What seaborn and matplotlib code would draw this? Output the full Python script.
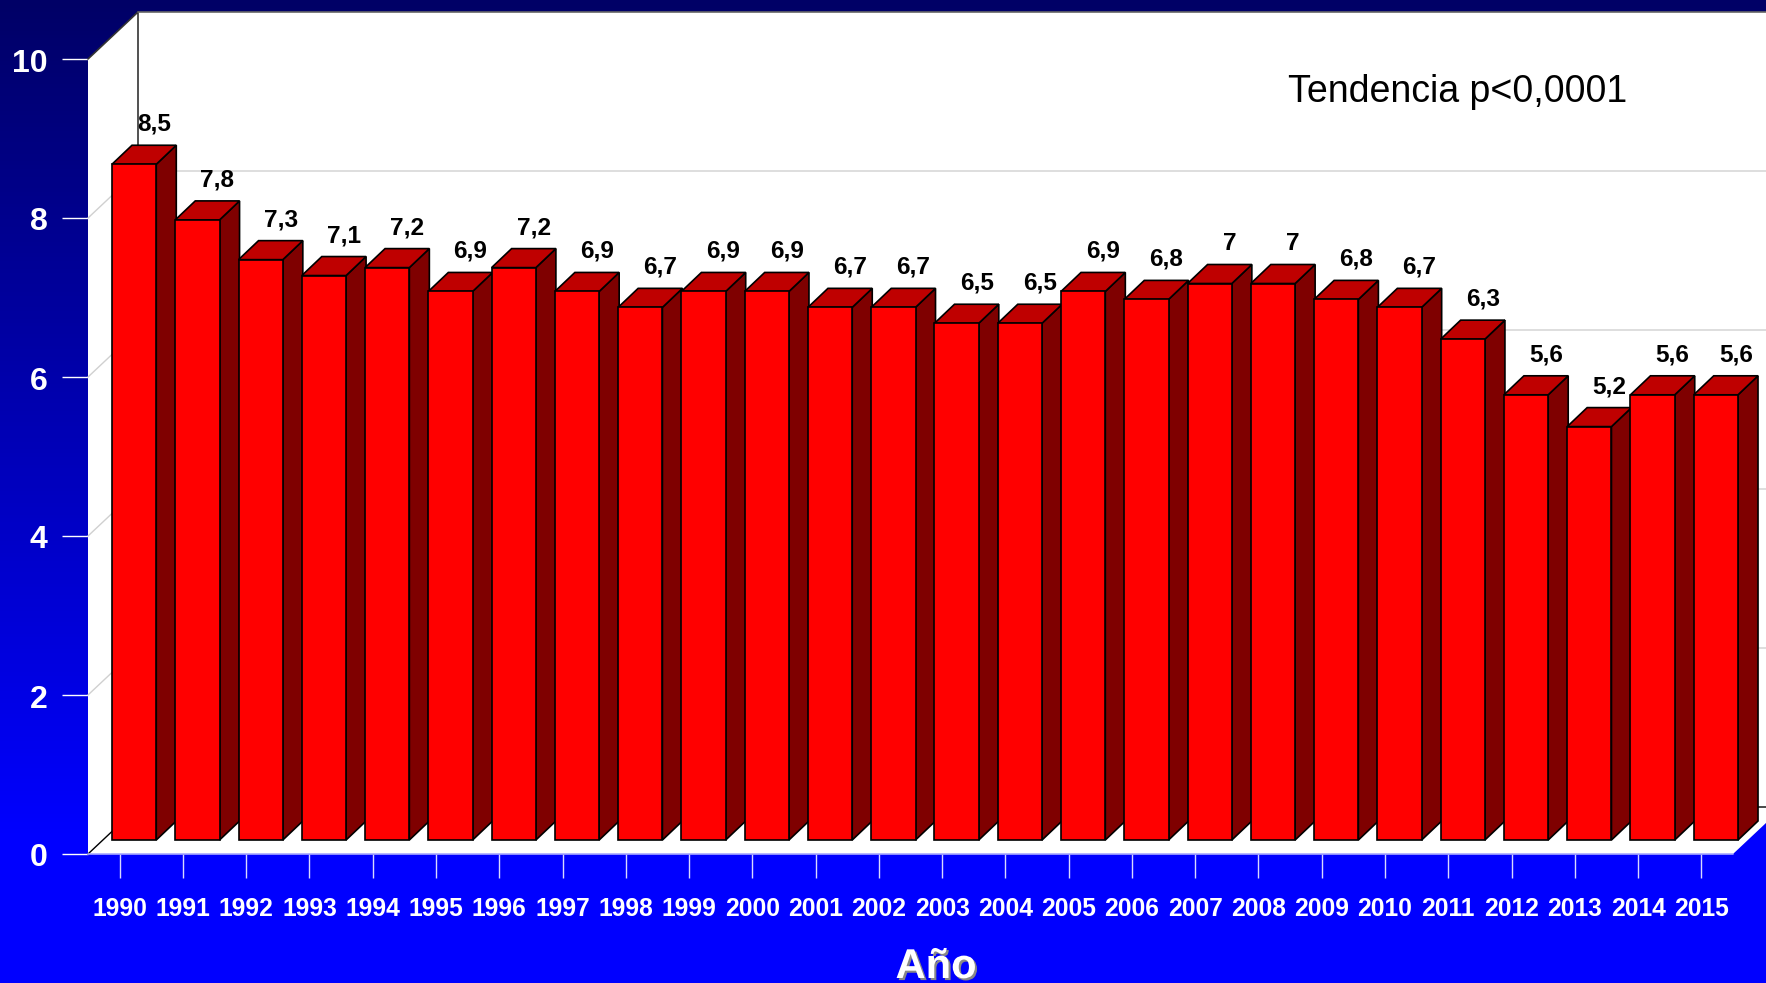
import matplotlib
matplotlib.use("Agg")
import matplotlib.pyplot as plt
import matplotlib.patheffects as pe
from matplotlib.colors import LinearSegmentedColormap
from matplotlib.patches import Polygon
from matplotlib.transforms import ScaledTranslation
import numpy as np
import seaborn as sns

years = [str(y) for y in range(1990, 2016)]
rates = [8.5, 7.8, 7.3, 7.1, 7.2, 6.9, 7.2, 6.9, 6.7, 6.9, 6.9, 6.7, 6.7,
         6.5, 6.5, 6.9, 6.8, 7, 7, 6.8, 6.7, 6.3, 5.6, 5.2, 5.6, 5.6]
y_ticks = [0, 2, 4, 6, 8, 10]
note = "Tendencia p<0,0001"
x_title = "Año"

W, H = 1766, 983
sns.set_theme(style="white")
plt.rcParams['font.family'] = ['Liberation Sans', 'DejaVu Sans']

# front plane of the fake 3d box, in pixels
left, right, top, bottom = 88, 1733, 59, 854
step_x = (right - left) / 26
step_y = (bottom - top) / 10


def px_axes(fig, l, r, t, b):
    return fig.add_axes([l / W, 1 - b / H, (r - l) / W, (b - t) / H])


fig = plt.figure(figsize=(W / 100, H / 100), dpi=100)

# background gradient
bg = fig.add_axes([0, 0, 1, 1], zorder=0)
cmap = LinearSegmentedColormap.from_list("bg", [(0, "#000066"), (0.85, "#0000FF"), (1, "#0000FF")])
bg.imshow(np.linspace(0, 1, 256)[:, None], aspect="auto", cmap=cmap)
bg.axis("off")

# box walls, axis ticks
ax = px_axes(fig, left, right, top, bottom)
ax.set_zorder(1)
ax.patch.set_alpha(0)
ax.set_xlim(-0.5, 25.5)
ax.set_ylim(0, 10)
dx = 50 / step_x
dy = 47 / step_y
xl, xr = -0.5, 25.5
for pts in [[(xl, 0), (xl, 10), (xl + dx, 10 + dy), (xl + dx, dy)],
            [(xl + dx, dy), (xl + dx, 10 + dy), (xr + dx + 1, 10 + dy), (xr + dx + 1, dy)],
            [(xl, 0), (xr, 0), (xr + dx, dy), (xl + dx, dy)]]:
    ax.add_patch(Polygon(pts, closed=True, fc="white", ec="none", clip_on=False, zorder=1))
for v in y_ticks[1:-1]:
    ax.plot([xl, xl + dx, xr + dx + 1], [v, v + dy, v + dy], color="#d0d0d0", lw=1,
            clip_on=False, zorder=1.5)
ax.plot([xl, xl + dx, xr + dx + 1], [0, dy, dy], color="black", lw=1, clip_on=False, zorder=1.5)
ax.plot([xl, xl + dx, xl + dx], [10, 10 + dy, dy], color="#333333", lw=1.2, clip_on=False, zorder=1.5)
ax.plot([xl + dx, xr + dx + 1], [10 + dy, 10 + dy], color="#666666", lw=1.2, clip_on=False, zorder=1.5)
ax.plot([xl, xr], [0, 0], color="#a8a8ff", lw=1.2, clip_on=False, zorder=2)

ax.set_xticks(range(26))
ax.set_xticklabels(years, fontsize=17.7, fontweight="bold", color="white")
ax.set_yticks(y_ticks)
ax.set_yticklabels(y_ticks, fontsize=23, fontweight="bold", color="white")
ax.tick_params(axis="x", length=17, width=1, color="#d8d8ff", pad=14, bottom=True)
ax.tick_params(axis="y", length=19, width=1, color="white", pad=10, left=True)
nudge = ScaledTranslation(0, -1 / 100, fig.dpi_scale_trans)
for lab in ax.get_yticklabels():
    lab.set_transform(lab.get_transform() + nudge)
sns.despine(ax=ax, left=True, bottom=True, top=True, right=True)

# bars sit a bit inside the box
bars = px_axes(fig, left + 14.5, right + 14.5, top - 14, bottom - 14)
bars.set_zorder(2)
bars.patch.set_alpha(0)
sns.barplot(x=years, y=rates, ax=bars, color="#FF0000", saturation=1, width=0.7,
            edgecolor="black", linewidth=1.2)
bars.set_xlim(-0.5, 25.5)
bars.set_ylim(0, 10)
bars.axis("off")

bx = 20 / step_x
by = 19 / step_y
for i, (p, v) in enumerate(zip(bars.patches, rates)):
    x0 = p.get_x()
    x1 = x0 + p.get_width()
    h = p.get_height()
    p.set_zorder(3 + 3 * i)
    p.set_clip_on(False)
    bars.add_patch(Polygon([(x1, 0), (x1, h), (x1 + bx, h + by), (x1 + bx, by)], closed=True,
                           fc="#7F0000", ec="black", lw=1.2, clip_on=False, zorder=2 + 3 * i))
    bars.add_patch(Polygon([(x0, h), (x1, h), (x1 + bx, h + by), (x0 + bx, h + by)], closed=True,
                           fc="#BF0000", ec="black", lw=1.2, clip_on=False, zorder=2 + 3 * i))
    bars.text(x0 + p.get_width() / 2 + 20 / step_x, h + 40 / step_y, f"{v:g}".replace(".", ","),
              ha="center", va="center", fontsize=17.6, fontweight="bold", color="black", zorder=200)

fig.text(1458 / W, 1 - 92 / H, note, ha="center", va="center", fontsize=27, color="black", zorder=5)
fig.text(936 / W, 1 - 978 / H, x_title, ha="center", va="baseline", fontsize=30, fontweight="bold",
         color="white", zorder=5,
         path_effects=[pe.withSimplePatchShadow(offset=(1.5, -1.5), shadow_rgbFace="#888888", alpha=1)])

fig.savefig("out.png", dpi=100, facecolor="#0000FF")
